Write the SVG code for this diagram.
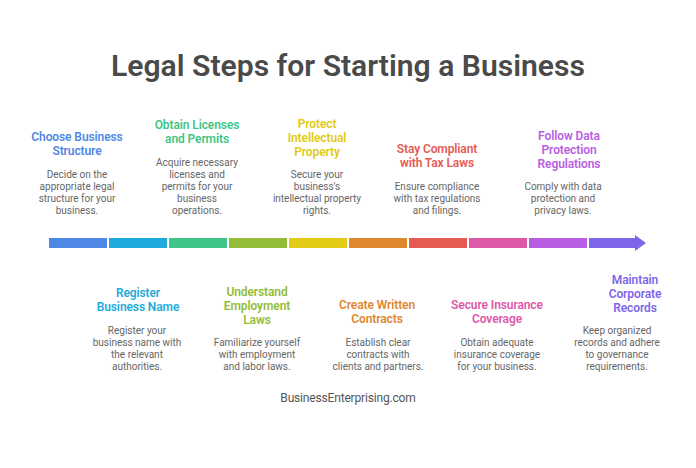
<svg xmlns="http://www.w3.org/2000/svg" width="696" height="468" viewBox="0 0 696 468">
<style>
text{font-family:Roboto,"Liberation Sans",sans-serif;text-anchor:middle}
.t{font-size:30.1px;font-weight:600;fill:#4a4a4a}
.h{font-size:12px;font-weight:600;letter-spacing:-.1px}
.b{font-size:10px;fill:#666}
.f{font-size:12px;fill:#555;letter-spacing:-.17px}
</style>
<rect width="696" height="468" fill="#fff"/>
<text id="title" class="t" x="348" y="76">Legal Steps for Starting a Business</text>
<g id="connectors">
<rect x="49" y="238" width="58" height="10" fill="#4e88e6"/>
<rect x="109" y="238" width="58" height="10" fill="#1eabdb"/>
<rect x="169" y="238" width="58" height="10" fill="#3fc585"/>
<rect x="229" y="238" width="58" height="10" fill="#93bc38"/>
<rect x="289" y="238" width="58" height="10" fill="#e2cb14"/>
<rect x="349" y="238" width="58" height="10" fill="#df872f"/>
<rect x="409" y="238" width="58" height="10" fill="#e65a54"/>
<rect x="469" y="238" width="58" height="10" fill="#de58a8"/>
<rect x="529" y="238" width="58" height="10" fill="#b95ee2"/>
<path d="M589 238H635V235L646 243L635 251V248H589Z" fill="#7f66e8"/>
</g>
<g id="n1"><text class="h" fill="#4e88e6"><tspan x="77" y="141">Choose Business</tspan><tspan x="77" y="155">Structure</tspan></text><text class="b"><tspan x="77" y="178">Decide on the</tspan><tspan x="77" y="190">appropriate legal</tspan><tspan x="77" y="202">structure for your</tspan><tspan x="77" y="214">business.</tspan></text></g>
<g id="n2"><text class="h" fill="#1eabdb"><tspan x="138" y="297">Register</tspan><tspan x="138" y="311">Business Name</tspan></text><text class="b"><tspan x="137" y="334">Register your</tspan><tspan x="137" y="346">business name with</tspan><tspan x="137" y="358">the relevant</tspan><tspan x="137" y="370">authorities.</tspan></text></g>
<g id="n3"><text class="h" fill="#3fc585"><tspan x="197" y="129">Obtain Licenses</tspan><tspan x="197" y="143">and Permits</tspan></text><text class="b"><tspan x="197" y="166">Acquire necessary</tspan><tspan x="197" y="178">licenses and</tspan><tspan x="197" y="190">permits for your</tspan><tspan x="197" y="202">business</tspan><tspan x="197" y="214">operations.</tspan></text></g>
<g id="n4"><text class="h" fill="#93bc38"><tspan x="257" y="296">Understand</tspan><tspan x="257" y="310">Employment</tspan><tspan x="257" y="324">Laws</tspan></text><text class="b"><tspan x="257" y="346">Familiarize yourself</tspan><tspan x="257" y="358">with employment</tspan><tspan x="257" y="370">and labor laws.</tspan></text></g>
<g id="n5"><text class="h" fill="#e2cb14"><tspan x="317" y="128">Protect</tspan><tspan x="317" y="142">Intellectual</tspan><tspan x="317" y="156">Property</tspan></text><text class="b"><tspan x="317" y="178">Secure your</tspan><tspan x="317" y="190">business's</tspan><tspan x="317" y="202">intellectual property</tspan><tspan x="317" y="214">rights.</tspan></text></g>
<g id="n6"><text class="h" fill="#df872f"><tspan x="377" y="309">Create Written</tspan><tspan x="377" y="323">Contracts</tspan></text><text class="b"><tspan x="378" y="346">Establish clear</tspan><tspan x="378" y="358">contracts with</tspan><tspan x="378" y="370">clients and partners.</tspan></text></g>
<g id="n7"><text class="h" fill="#e65a54"><tspan x="437" y="153">Stay Compliant</tspan><tspan x="437" y="167">with Tax Laws</tspan></text><text class="b"><tspan x="437" y="190">Ensure compliance</tspan><tspan x="437" y="202">with tax regulations</tspan><tspan x="437" y="214">and filings.</tspan></text></g>
<g id="n8"><text class="h" fill="#de58a8"><tspan x="497" y="309">Secure Insurance</tspan><tspan x="497" y="323">Coverage</tspan></text><text class="b"><tspan x="497" y="346">Obtain adequate</tspan><tspan x="497" y="358">insurance coverage</tspan><tspan x="497" y="370">for your business.</tspan></text></g>
<g id="n9"><text class="h" fill="#b95ee2"><tspan x="569" y="140">Follow Data</tspan><tspan x="569" y="154">Protection</tspan><tspan x="569" y="168">Regulations</tspan></text><text class="b"><tspan x="563" y="190">Comply with data</tspan><tspan x="563" y="202">protection and</tspan><tspan x="563" y="214">privacy laws.</tspan></text></g>
<g id="n10"><text class="h" fill="#7f66e8"><tspan x="635" y="284">Maintain</tspan><tspan x="635" y="298">Corporate</tspan><tspan x="635" y="312">Records</tspan></text><text class="b"><tspan x="617" y="334">Keep organized</tspan><tspan x="617" y="346">records and adhere</tspan><tspan x="617" y="358">to governance</tspan><tspan x="617" y="370">requirements.</tspan></text></g>
<text id="footer" class="f" x="348" y="402">BusinessEnterprising.com</text>
</svg>
